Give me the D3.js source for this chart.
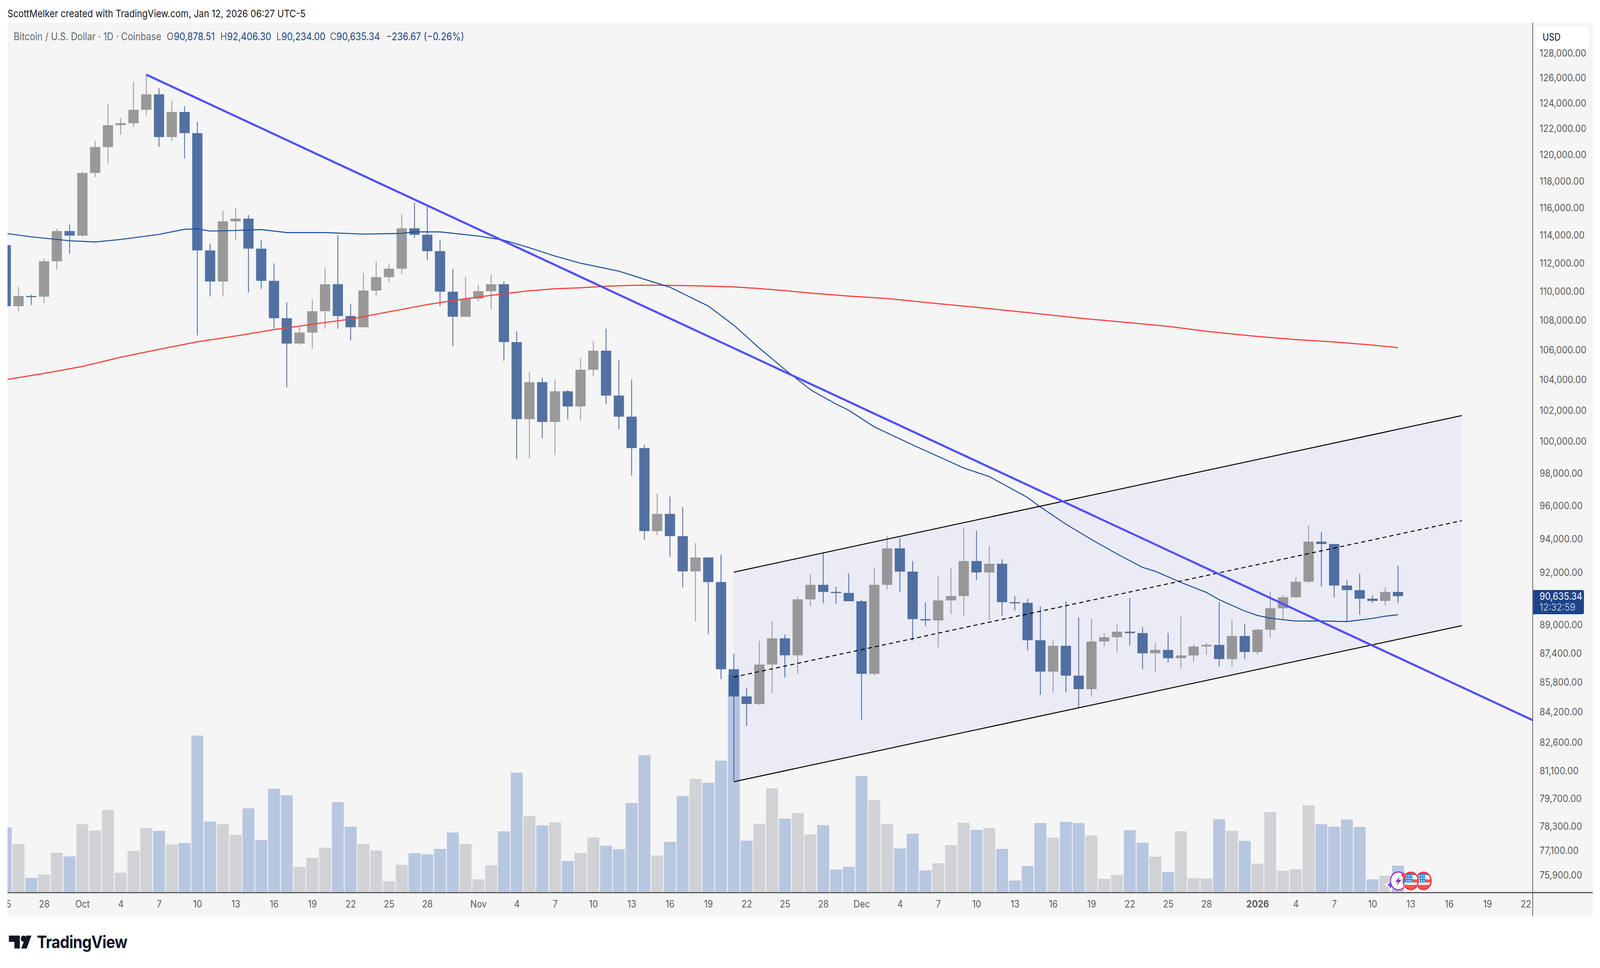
<!DOCTYPE html>
<html>
<head>
<meta charset="utf-8">
<script src="https://cdn.jsdelivr.net/npm/d3@7/dist/d3.min.js"></script>
<style>
  html, body { margin: 0; padding: 0; background: #fff; overflow: hidden; width: 100%; height: 100%; }
  #chart { width: 100vw; height: 100vh; }
  svg { display: block; width: 100%; height: 100%; font-family: Inter, Roboto, sans-serif; }
</style>
</head>
<body>
<div id="chart"></div>
<script>
// daily candles, Sep 25 2025 -> Jan 12 2026
var openPrices = [
  113290,108980,109690,109640,112140,114310,
  113980,118610,120580,122270,122420,123470,124690,121350,123300,121650,112910,110700,115020,115220,113040,110750,108150,106420,107170,108630,110510,108300,107530,110070,111010,111610,114510,114040,112860,109990,108250,
  109500,110020,110510,106520,101430,103840,101250,103240,102250,104660,105940,102960,101590,99580,94460,95500,94160,92070,92890,91450,86520,85040,84630,86780,88240,87290,90450,91290,90880,90820,
  90340,86270,91290,93430,92060,89320,89250,90390,90640,92680,92010,92520,90290,90250,88130,86390,87820,86170,85430,88060,88300,88610,88530,87400,87590,87130,87280,87780,87870,87080,88370,
  87470,88720,89940,90570,91470,93830,93690,91250,90980,90490,90360,90878.51
];
var highPrices = [
  113290,110330,109780,112340,114460,114780,
  118710,121060,123950,122830,125700,126260,125190,124180,123770,122540,113410,115790,116030,115480,113630,111990,109240,107530,109450,111700,114020,109150,111310,112110,111920,115520,116380,116100,113660,111590,111030,
  110460,111170,110700,107250,104520,104150,104020,103320,105430,106610,107430,105300,104020,99800,96740,96560,95910,93750,92900,93060,87370,85520,88090,89200,88460,90610,91910,93140,91180,91950,
  90410,92310,94150,94050,92690,90280,91770,92270,94610,94480,93560,92790,90640,90480,90050,88130,90330,89430,89340,88520,89020,90520,88870,87980,88530,89470,87890,87980,90290,89310,89070,
  88780,90910,90680,91740,94810,94420,93700,91560,91930,90680,91150,92406.30
];
var lowPrices = [
  108700,108630,109060,109200,111540,112660,
  113910,118300,119310,121540,122130,123040,120600,121060,119700,106980,109650,109650,113680,109930,110180,107440,103500,106320,106060,107420,107420,106630,107500,109720,110660,111240,113820,112200,108980,106250,108250,
  109320,108780,105260,98890,98940,100200,99150,101410,101360,104220,102410,100780,97860,93950,94210,92930,91140,89180,88470,85980,80600,83450,84580,85220,86070,86270,90060,90230,90200,90340,
  83800,86180,91020,90890,88110,88930,87740,89610,89530,91560,89250,89500,89800,87560,85130,85240,85260,84420,85040,87780,87490,87830,86520,86340,86880,86560,86940,87330,86660,86680,87080,
  87340,88270,89270,90540,91400,91180,90560,89190,89570,90250,90100,90234.00
];
var closePrices = [
  108980,109690,109640,112140,114310,113980,
  118610,120580,122270,122420,123470,124690,121350,123300,121650,112910,110700,115020,115220,113040,110750,108150,106420,107170,108630,110510,108300,107530,110070,111010,111610,114510,114040,112860,109990,108250,109500,
  110020,110510,106520,101430,103840,101250,103240,102250,104660,105940,102960,101590,99580,94460,95500,94160,92070,92890,91450,86520,85040,84630,86780,88240,87290,90450,91290,90880,90820,90340,
  86270,91290,93430,92060,89320,89250,90390,90640,92680,92010,92520,90290,90250,88130,86390,87820,86170,85430,88060,88300,88610,88530,87400,87590,87130,87280,87780,87870,87080,88370,87470,
  88720,89940,90570,91470,93830,93690,91250,90980,90490,90360,90880,90635.34
];
// volume, relative units
var volumes = [
  381,282,83,102,231,210,
  400,363,485,113,243,377,361,280,289,924,416,400,337,494,307,610,571,148,201,261,531,386,284,245,63,160,229,222,254,351,284,
  74,157,358,705,448,393,411,183,231,321,273,252,525,809,215,296,566,668,645,776,1284,303,402,612,434,467,340,395,132,148,
  686,543,402,257,344,127,169,277,409,367,377,254,67,153,407,321,414,407,333,77,100,365,291,208,118,358,81,79,430,361,301,
  167,471,125,134,511,400,386,428,384,74,95,155
];

// slow and fast moving averages, vertices
var fastDates = ["2025-09-25","2025-09-27","2025-09-30","2025-10-02","2025-10-04","2025-10-07","2025-10-09","2025-10-10","2025-10-11","2025-10-13","2025-10-15","2025-10-17","2025-10-20","2025-10-23","2025-10-26","2025-10-27","2025-10-29","2025-11-01","2025-11-03","2025-11-05","2025-11-07","2025-11-09","2025-11-12","2025-11-15","2025-11-16","2025-11-19","2025-11-21","2025-11-23","2025-11-25","2025-11-27","2025-11-29","2025-11-30","2025-12-02","2025-12-05","2025-12-09","2025-12-11","2025-12-14","2025-12-15","2025-12-17","2025-12-19","2025-12-21","2025-12-23","2025-12-24","2025-12-26","2025-12-28","2025-12-29","2025-12-31","2026-01-01","2026-01-02","2026-01-03","2026-01-04","2026-01-06","2026-01-08","2026-01-10","2026-01-11","2026-01-12"];
var fastValues = [114140,113890,113610,113520,113700,114070,114440,114460,114310,114350,114420,114200,114200,114090,114140,114250,114250,113950,113650,113100,112510,112000,111430,110580,110300,108990,107670,106110,104680,103340,102410,102000,100930,99780,98330,97790,96500,95920,94880,93960,93100,92310,92080,91430,90850,90430,89780,89530,89370,89290,89210,89220,89180,89360,89490,89570];
var slowDates = ["2025-09-25","2025-09-28","2025-10-01","2025-10-04","2025-10-07","2025-10-10","2025-10-13","2025-10-16","2025-10-19","2025-10-22","2025-10-25","2025-10-28","2025-10-31","2025-11-03","2025-11-05","2025-11-07","2025-11-09","2025-11-11","2025-11-13","2025-11-15","2025-11-17","2025-11-19","2025-11-21","2025-11-23","2025-11-25","2025-11-27","2025-11-30","2025-12-03","2025-12-07","2025-12-10","2025-12-14","2025-12-18","2025-12-22","2025-12-25","2025-12-28","2026-01-01","2026-01-04","2026-01-07","2026-01-10","2026-01-12"];
var slowValues = [104000,104420,104880,105500,106030,106540,106930,107370,107730,108090,108590,109090,109500,109850,110050,110190,110260,110370,110430,110440,110420,110380,110320,110210,110060,109890,109680,109510,109150,108900,108540,108160,107840,107590,107250,106900,106690,106530,106320,106140];

// drawings
var trendDates = ["2025-10-06","2026-01-23"];
var trendValues = [126260,83620];
var channelDates = ["2025-11-21","2026-01-17"];
var channelTop = [92030,101660];
var channelMid = [86090,95090];
var channelBottom = [80550,88950];

var priceTicks = [128000,126000,124000,122000,120000,118000,116000,114000,112000,110000,108000,106000,104000,102000,100000,98000,96000,94000,92000,89000,87400,85800,84200,82600,81100,79700,78300,77100,75900];
var dayTicks = ["2025-09-25","2025-09-28","2025-10-01","2025-10-04","2025-10-07","2025-10-10","2025-10-13","2025-10-16","2025-10-19","2025-10-22","2025-10-25","2025-10-28","2025-11-01","2025-11-04","2025-11-07","2025-11-10","2025-11-13","2025-11-16","2025-11-19","2025-11-22","2025-11-25","2025-11-28","2025-12-01","2025-12-04","2025-12-07","2025-12-10","2025-12-13","2025-12-16","2025-12-19","2025-12-22","2025-12-25","2025-12-28","2026-01-01","2026-01-04","2026-01-07","2026-01-10","2026-01-13","2026-01-16","2026-01-19","2026-01-22"];

var legendParts = [
  ["Bitcoin / U.S. Dollar · 1D · Coinbase", 40, "#666"],
  ["O", 488, "#666"], ["90,878.51", 509, "#1c4587"],
  ["H", 645, "#666"], ["92,406.30", 665, "#1c4587"],
  ["L", 809, "#666"], ["90,234.00", 824, "#1c4587"],
  ["C", 966, "#666"], ["90,635.34", 985, "#1c4587"],
  ["−236.67 (−0.26%)", 1130, "#1c4587"]
];

var W = 4684, H = 2479;
var panel = {left: 22, top: 58, right: 4663, bottom: 2347};
var axisX = 4487, axisY = 2286, volBase = 2284;

var parseDay = d3.utcParse("%Y-%m-%d");
var days = d3.utcDay.range(parseDay("2025-09-25"), parseDay("2026-01-13"));

var x = d3.scaleUtc().domain([parseDay("2025-09-28"), parseDay("2026-01-22")]).range([129, 4466.6]);
var y = d3.scaleLog().domain([128000, 75900]).range([136, 2241.5]);
var yVol = d3.scaleLinear().domain([0, 1284]).range([volBase, 1728]);

// the window is narrower than W, so draw in W x H units and let it fit
var svg = d3.select("#chart").append("svg")
  .attr("viewBox", "0 0 " + W + " " + H)
  .attr("preserveAspectRatio", "none");

var defs = svg.append("defs");
defs.append("clipPath").attr("id", "plotClip").append("rect")
  .attr("x", panel.left).attr("y", panel.top)
  .attr("width", axisX - panel.left).attr("height", axisY - panel.top);
defs.append("clipPath").attr("id", "timeClip").append("rect")
  .attr("x", panel.left).attr("y", axisY)
  .attr("width", panel.right - panel.left).attr("height", panel.bottom - axisY);

svg.append("rect")
  .attr("x", panel.left).attr("y", panel.top)
  .attr("width", panel.right - panel.left).attr("height", panel.bottom - panel.top)
  .attr("fill", "#f5f5f5");

var plot = svg.append("g").attr("clip-path", "url(#plotClip)");

var candles = days.map(function(d, i) {
  return {date: d, o: openPrices[i], h: highPrices[i], l: lowPrices[i], c: closePrices[i], v: volumes[i]};
});
var isDown = function(d) { return d.c < d.o; };

// volume
plot.selectAll(".vol").data(candles).enter().append("rect")
  .attr("class", "vol")
  .attr("x", function(d) { return x(d.date) - 17.5; })
  .attr("width", 35)
  .attr("y", function(d) { return yVol(d.v); })
  .attr("height", function(d) { return volBase - yVol(d.v); })
  .attr("fill", function(d) { return isDown(d) ? "#b8c7e0" : "#d1d2d6"; });

// channel fill sits under the candles
var channelX = channelDates.map(parseDay);
plot.append("polygon")
  .attr("points", [
    [x(channelX[0]), y(channelTop[0])],
    [x(channelX[1]), y(channelTop[1])],
    [x(channelX[1]), y(channelBottom[1])],
    [x(channelX[0]), y(channelBottom[0])]
  ].join(" "))
  .attr("fill", "#5050ff")
  .attr("fill-opacity", 0.06);

// candles, group opacity so the wick does not show through the body
var candle = plot.selectAll(".candle").data(candles).enter().append("g")
  .attr("class", "candle")
  .attr("fill", function(d) { return isDown(d) ? "#1c4587" : "#7b7b7b"; })
  .attr("opacity", 0.75);

candle.append("rect")
  .attr("x", function(d) { return x(d.date) - 1.25; })
  .attr("width", 2.5)
  .attr("y", function(d) { return y(d.h); })
  .attr("height", function(d) { return Math.max(y(d.l) - y(d.h), 1); });

candle.append("rect")
  .attr("x", function(d) { return x(d.date) - 15; })
  .attr("width", 30)
  .attr("y", function(d) { return y(Math.max(d.o, d.c)); })
  .attr("height", function(d) { return Math.max(Math.abs(y(d.o) - y(d.c)), 3); });

// moving averages
var maLine = d3.line()
  .x(function(d) { return x(d[0]); })
  .y(function(d) { return y(d[1]); });

plot.append("path")
  .attr("d", maLine(slowDates.map(function(d, i) { return [parseDay(d), slowValues[i]]; })))
  .attr("fill", "none").attr("stroke", "#f7423c").attr("stroke-width", 3);

plot.append("path")
  .attr("d", maLine(fastDates.map(function(d, i) { return [parseDay(d), fastValues[i]]; })))
  .attr("fill", "none").attr("stroke", "#1c4f9c").attr("stroke-width", 2.6);

// channel lines
var drawChannel = function(vals, dash) {
  plot.append("path")
    .attr("d", maLine([[channelX[0], vals[0]], [channelX[1], vals[1]]]))
    .attr("fill", "none")
    .attr("stroke", "#000")
    .attr("stroke-width", 2.5)
    .attr("stroke-dasharray", dash);
};
drawChannel(channelTop, null);
drawChannel(channelMid, "12 9");
drawChannel(channelBottom, null);

// big trend line
plot.append("path")
  .attr("d", maLine(trendDates.map(function(d, i) { return [parseDay(d), trendValues[i]]; })))
  .attr("fill", "none").attr("stroke", "#5050ff").attr("stroke-width", 5.5);

// axis lines
svg.append("line")
  .attr("x1", panel.left).attr("x2", panel.right)
  .attr("y1", axisY).attr("y2", axisY)
  .attr("stroke", "#555").attr("stroke-width", 3);
svg.append("line")
  .attr("x1", axisX).attr("x2", axisX)
  .attr("y1", panel.top).attr("y2", panel.bottom - 1)
  .attr("stroke", "#555").attr("stroke-width", 2);

// price axis
var priceAxis = d3.axisRight(y)
  .tickValues(priceTicks)
  .tickSize(0)
  .tickPadding(20)
  .tickFormat(d3.format(",.2f"));
var yAxisG = svg.append("g")
  .attr("transform", "translate(" + axisX + ",0)")
  .call(priceAxis);
yAxisG.select(".domain").remove();
yAxisG.selectAll("text")
  .attr("font-family", "Inter, Roboto, sans-serif")
  .attr("font-size", 26)
  .attr("fill", "#5c5c5c");

// time axis
var timeLabel = function(d) {
  if (d.getUTCFullYear() == 2026 && d.getUTCMonth() == 0 && d.getUTCDate() == 1) return "2026";
  if (d.getUTCDate() == 1) return d3.utcFormat("%b")(d);
  return d.getUTCDate();
};
var timeAxis = d3.axisBottom(x)
  .tickValues(dayTicks.map(parseDay))
  .tickSize(0)
  .tickPadding(0)
  .tickFormat(timeLabel);
var xAxisG = svg.append("g")
  .attr("clip-path", "url(#timeClip)")
  .append("g")
  .attr("transform", "translate(0," + axisY + ")")
  .call(timeAxis);
xAxisG.select(".domain").remove();
xAxisG.selectAll("text")
  .attr("y", 29)
  .attr("dy", "0.35em")
  .attr("font-family", "Inter, Roboto, sans-serif")
  .attr("font-size", 25.5)
  .attr("fill", "#5c5c5c")
  .attr("font-weight", function(d) { return timeLabel(d) == "2026" ? 700 : 400; });

// currency button
svg.append("rect")
  .attr("x", 4496).attr("y", 68).attr("width", 156).attr("height", 55)
  .attr("rx", 8).attr("fill", "#fff");
svg.append("text")
  .attr("x", 4516).attr("y", 95.5).attr("dy", "0.35em")
  .attr("font-size", 25).attr("fill", "#131722")
  .text("USD");

// last price label
var lastPrice = closePrices[closePrices.length - 1];
svg.append("path")
  .attr("d", "M" + (axisX + 1) + ",1511H4632a5,5 0 0 1 5,5V1568a5,5 0 0 1 -5,5H" + (axisX + 1) + "Z")
  .attr("fill", "#1c4587");
svg.append("text")
  .attr("x", axisX + 20).attr("y", 1527).attr("dy", "0.35em")
  .attr("font-size", 26).attr("fill", "#fff")
  .text(d3.format(",.2f")(lastPrice));
svg.append("text")
  .attr("x", axisX + 20).attr("y", 1555).attr("dy", "0.35em")
  .attr("font-size", 26).attr("fill", "#b6c4dd")
  .text("12:32:59");

// header text
svg.append("text")
  .attr("x", 22).attr("y", 35).attr("dy", "0.35em")
  .attr("font-size", 26.2).attr("fill", "#131722")
  .text("ScottMelker created with TradingView.com, Jan 12, 2026 06:27 UTC-5");

svg.selectAll(".legend").data(legendParts).enter().append("text")
  .attr("class", "legend")
  .attr("x", function(d) { return d[1]; })
  .attr("y", 94).attr("dy", "0.35em")
  .attr("font-size", 26.4)
  .attr("fill", function(d) { return d[2]; })
  .text(function(d) { return d[0]; });

// event badges near the last bar
var eventY = 2256;
var star = svg.append("g").attr("transform", "translate(" + (x(parseDay("2026-01-12")) - 22) + ",2266)");
star.append("path")
  .attr("d", "M0,-14Q3,-3 14,0Q3,3 0,14Q-3,3 -14,0Q-3,-3 0,-14Z")
  .attr("fill", "#7c4dff").attr("stroke", "#fff").attr("stroke-width", 3);

var bolt = svg.append("g").attr("transform", "translate(" + (x(parseDay("2026-01-12")) + 1) + "," + eventY + ")");
bolt.append("circle").attr("r", 23).attr("fill", "#fff").attr("stroke", "#9c27b0").attr("stroke-width", 3);
bolt.append("path").attr("d", "M4,-11L-9,3H-1L-5,12L9,-3H1Z").attr("fill", "#9c27b0");
bolt.append("circle").attr("cx", 15).attr("cy", -15).attr("r", 6).attr("fill", "#f23645");

["2026-01-14", "2026-01-13"].forEach(function(day, k) {
  var clipId = "flagClip" + k;
  defs.append("clipPath").attr("id", clipId).append("circle").attr("r", 21);
  var g = svg.append("g").attr("transform", "translate(" + x(parseDay(day)) + "," + eventY + ")");
  g.append("circle").attr("r", 25).attr("fill", "#fff");
  var inner = g.append("g").attr("clip-path", "url(#" + clipId + ")");
  inner.append("rect").attr("x", -24).attr("y", -24).attr("width", 48).attr("height", 48).attr("fill", "#fff");
  inner.append("rect").attr("x", 4).attr("y", -24).attr("width", 20).attr("height", 9).attr("fill", "#f25555");
  inner.append("rect").attr("x", 4).attr("y", -4).attr("width", 20).attr("height", 8).attr("fill", "#f25555");
  inner.append("rect").attr("x", -24).attr("y", 10).attr("width", 48).attr("height", 14).attr("fill", "#f25555");
  inner.append("rect").attr("x", -24).attr("y", -24).attr("width", 29).attr("height", 28).attr("fill", "#2a8de8");
  d3.range(3).forEach(function(r) {
    d3.range(3).forEach(function(c) {
      inner.append("circle")
        .attr("cx", -12 + c * 6.5).attr("cy", -13 + r * 6.5).attr("r", 1.8).attr("fill", "#fff");
    });
  });
  g.append("circle").attr("r", 22).attr("fill", "none").attr("stroke", "#f23645").attr("stroke-width", 4);
});

// TradingView logo
var logo = svg.append("g").attr("fill", "#131722");
logo.append("path").attr("d", "M26,2396H58V2429H42V2412H26Z");
logo.append("circle").attr("cx", 69).attr("cy", 2404).attr("r", 8);
logo.append("path").attr("d", "M77,2396H92L78,2429H62Z");
logo.append("text")
  .attr("x", 108).attr("y", 2428)
  .attr("font-size", 44.5)
  .attr("font-weight", 700)
  .attr("letter-spacing", -1)
  .text("TradingView");
</script>
</body>
</html>
